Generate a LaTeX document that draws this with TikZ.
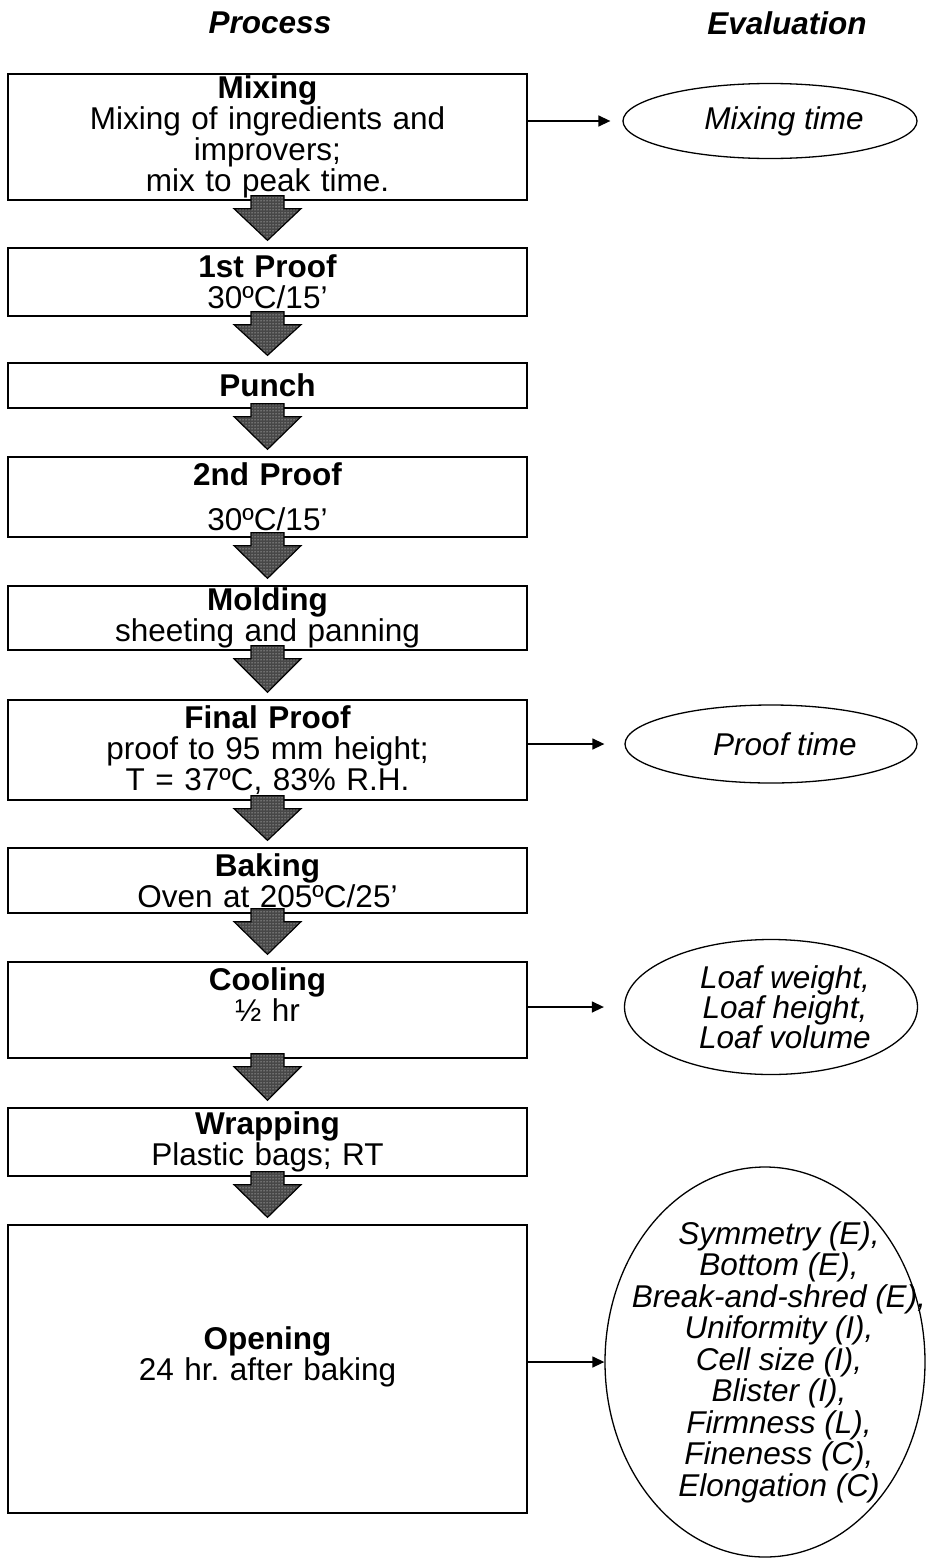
\documentclass[tikz,border=0pt]{standalone}
\usepackage{fontspec}
\setmainfont{Liberation Sans}
\usepackage{tikz}
\usetikzlibrary{shapes,arrows.meta,positioning,calc,patterns}

\newcommand{\evpad}{\hspace*{28pt}}
\frenchspacing

\tikzset{
  stepbox/.style={draw=black,line width=1.3pt,text width=519pt,align=center,
                  inner sep=0pt,font=\fontsize{31.5}{31}\selectfont},
  evalnode/.style={draw=black,line width=1.3pt,ellipse,inner sep=0pt,align=center,
                   font=\fontsize{31.5}{31}\selectfont\itshape},
  fatarrow/.style={draw=black,line width=1.2pt,preaction={fill=black!72},
                   pattern=dots,pattern color=white},
  evalarrow/.style={line width=1.4pt,-{Triangle[length=12pt,width=11pt]}},
  headtext/.style={font=\fontsize{31.5}{31}\selectfont\bfseries\itshape}
}

\begin{document}
\begin{tikzpicture}[x=1pt,y=-1pt]
  \useasboundingbox (0,0) rectangle (926,1566);

  % column titles
  \node[headtext] (hproc) at (270,23) {Process};
  \node[headtext] (heval) at (787,23) {Evaluation};

  % process steps
  \node[stepbox,minimum height=126pt] (mix) at (267.5,137) {
      \textbf{Mixing}\\
      Mixing of ingredients and\\
      improvers;\\
      mix to peak time.};
  \node[stepbox,minimum height=68pt] (proofa) at (267.5,282) {
      \textbf{1st Proof}\\ 30ºC/15’};
  \node[stepbox,minimum height=45pt] (punch) at (267.5,385.5) {\textbf{Punch}};
  \node[stepbox,minimum height=80pt] (proofb) at (267.5,497) {
      \textbf{2nd Proof}\\[14pt] 30ºC/15’};
  \node[stepbox,minimum height=64pt] (mold) at (267.5,618) {
      \textbf{Molding}\\ sheeting and panning};
  \node[stepbox,minimum height=100pt] (prooff) at (267.5,750) {
      \textbf{Final Proof}\\
      proof to 95 mm height;\\
      T = 37ºC, 83\% R.H.};
  \node[stepbox,minimum height=65pt] (bake) at (267.5,880.5) {
      \textbf{Baking}\\ Oven at 205ºC/25’};
  \node[stepbox,minimum height=96pt] (cool) at (267.5,1010) {
      \textbf{Cooling}\\ ½ hr\\ \mbox{}};
  \node[stepbox,minimum height=68pt] (wrap) at (267.5,1142) {
      \textbf{Wrapping}\\ Plastic bags; RT};
  \node[stepbox,minimum height=288pt] (open) at (267.5,1369) {
      \textbf{Opening}\\ 24 hr. after baking\\ \mbox{}};

  % evaluations
  \node[evalnode,minimum width=294pt,minimum height=75pt] (evmix) at (770,121) {
      \evpad Mixing time};
  \node[evalnode,minimum width=292pt,minimum height=78pt] (evproof) at (771,744) {
      \evpad Proof time};
  \node[evalnode,minimum width=293pt,minimum height=135pt,
        font=\fontsize{31.5}{30}\selectfont\itshape] (evloaf) at (771,1007) {
      \evpad Loaf weight,\\
      \evpad Loaf height,\\
      \evpad Loaf volume};
  \node[evalnode,minimum width=320pt,minimum height=390pt,
        inner xsep=-60pt,inner ysep=-12pt,
        font=\fontsize{31.5}{31.5}\selectfont\itshape] (evtex) at (765,1362) {
      \evpad Symmetry (E),\\
      \evpad Bottom (E),\\
      \evpad Break-and-shred (E),\\
      \evpad Uniformity (I),\\
      \evpad Cell size (I),\\
      \evpad Blister (I),\\
      \evpad Firmness (L),\\
      \evpad Fineness (C),\\
      \evpad Elongation (C)};

  % flow arrows
  \foreach \a/\b in {mix/proofa,proofa/punch,punch/proofb,proofb/mold,mold/prooff,
                     prooff/bake,bake/cool,cool/wrap,wrap/open}
    \draw[fatarrow] ($(\a.south)+(-16.5,-5)$) -- ($(\a.south)+(16.5,-5)$)
      -- ($(\a.south)+(16.5,8)$) -- ($(\a.south)+(33.5,8)$)
      -- ($(\b.north)+(0,-7)$)
      -- ($(\a.south)+(-33.5,8)$) -- ($(\a.south)+(-16.5,8)$) -- cycle;

  % links to evaluations
  \draw[evalarrow,shorten >=12pt] (mix.east |- evmix.west) -- (evmix.west);
  \draw[evalarrow,shorten >=20pt] (prooff.east |- evproof.west) -- (evproof.west);
  \draw[evalarrow,shorten >=20pt] (cool.east |- evloaf.west) -- (evloaf.west);
  \draw[evalarrow] (open.east |- evtex.west) -- (evtex.west);
\end{tikzpicture}
\end{document}
